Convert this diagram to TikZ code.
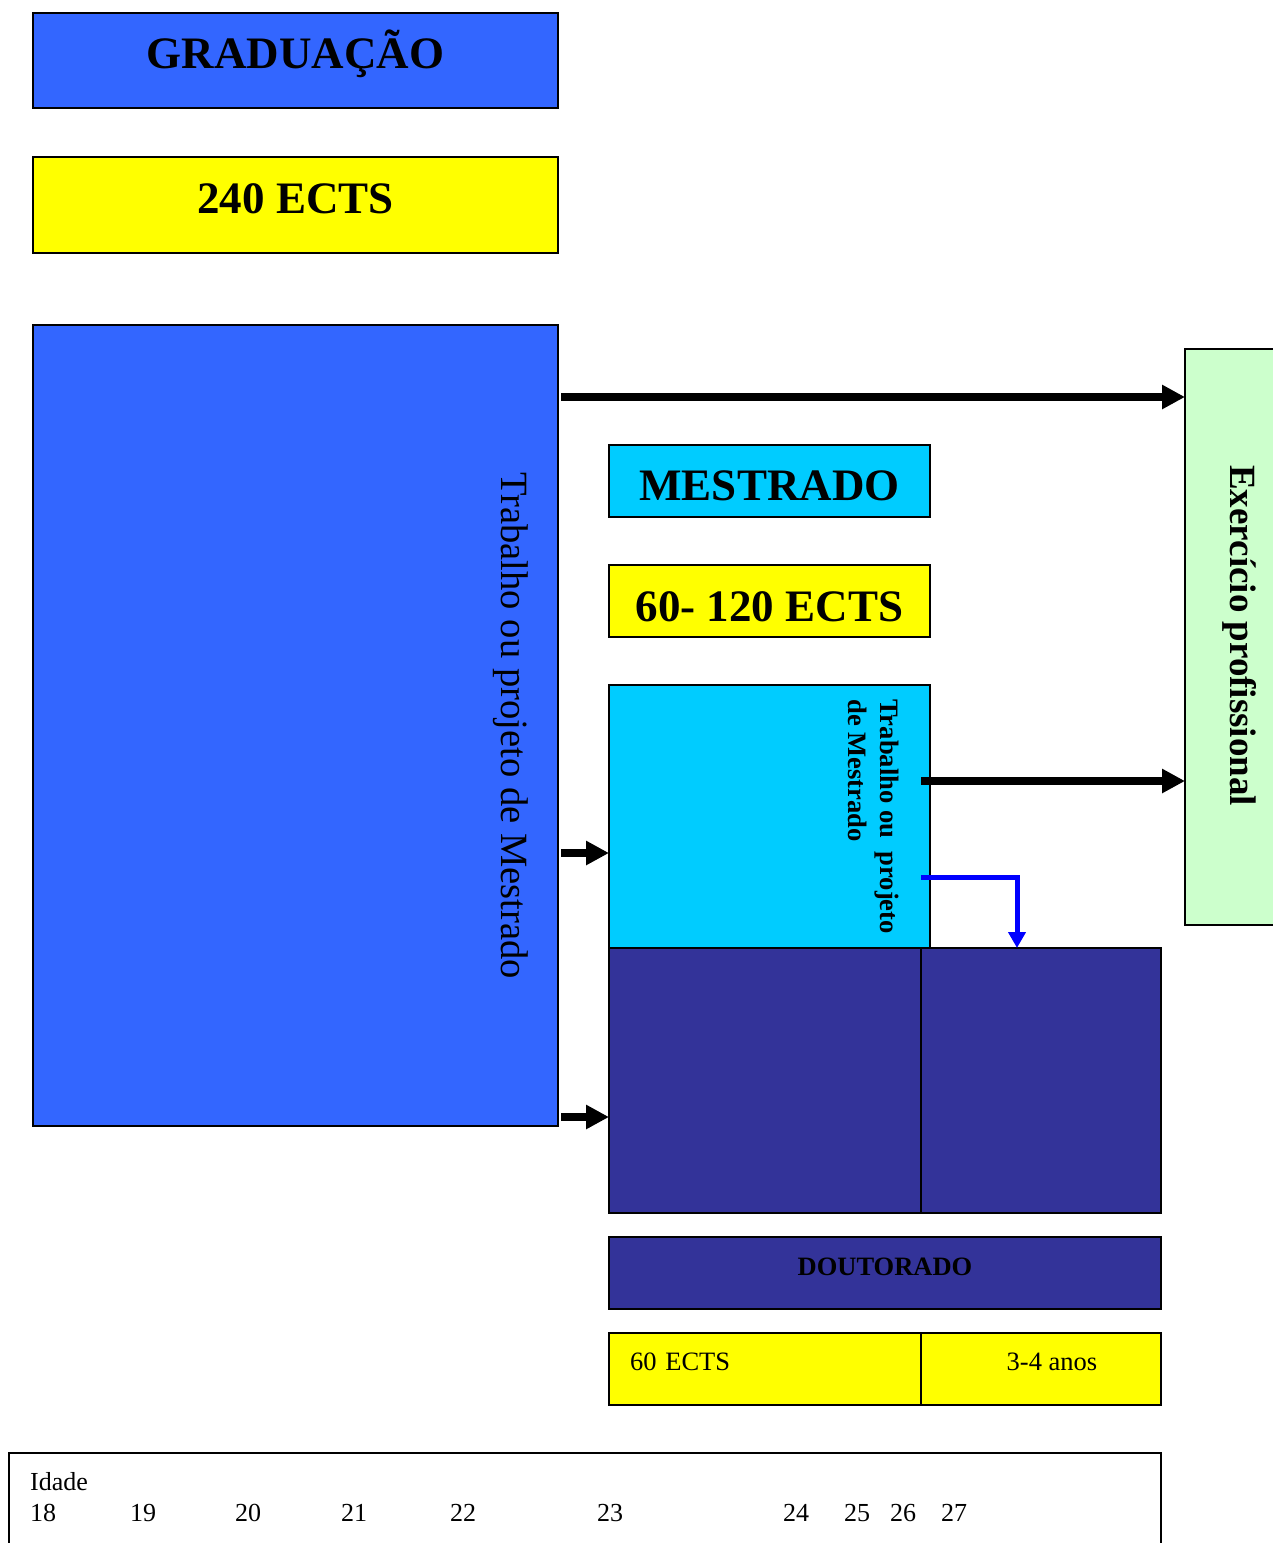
\documentclass[tikz,border=0pt]{standalone}
\usepackage{fontspec}
\setmainfont{Liberation Serif}
\usetikzlibrary{positioning,arrows.meta}

\definecolor{gradblue}{HTML}{3366FF}
\definecolor{mestblue}{HTML}{00CCFF}
\definecolor{docblue}{HTML}{333399}
\definecolor{ectsyellow}{HTML}{FFFF00}
\definecolor{workgreen}{HTML}{CCFFCC}

\begin{document}
\begin{tikzpicture}[
	x=1pt, y=-1pt,
	box/.style={
		draw,
		line width=1.5pt,
		inner sep=0pt,
		outer sep=0pt,
		align=center
	},
	grad/.style={box,fill=gradblue},
	mest/.style={box,fill=mestblue},
	doc/.style={box,fill=docblue},
	ects/.style={box,fill=ectsyellow},
	titletext/.style={font=\bfseries\fontsize{45}{54}\selectfont,text height=#1,text depth=0pt},
	bodytext/.style={font=\fontsize{26.5}{32}\selectfont,text height=#1,text depth=0pt},
	agetext/.style={font=\fontsize{26}{31}\selectfont,inner sep=0pt},
	arrow/.style={-{Triangle[length=23pt,width=23pt]},line width=7.5pt},
	bluearrow/.style={-{Triangle[length=16pt,width=17pt]},line width=5pt,draw=blue}
	]
	\useasboundingbox (0,0) rectangle (1273,1543);
	
	% graduacao
	\node[grad,anchor=north west,minimum width=525pt,minimum height=95pt,titletext=15pt] (grad) at (33,13) {GRADUAÇÃO};
	\node[ects,below=49pt of grad,minimum width=525pt,minimum height=96pt,titletext=16pt] (ects) {240 ECTS};
	\node[grad,below=72pt of ects,minimum width=525pt,minimum height=801pt] (bigwork) {};
	\node[rotate=-90,anchor=base west,inner sep=0pt,font=\fontsize{38.6}{46}\selectfont]
	(bigtxt) at ([shift={(-57,147)}]bigwork.north east) {Trabalho ou projeto de Mestrado};
	
	% mestrado
	\node[mest,anchor=north west,minimum width=321pt,minimum height=72pt,titletext=38pt] (mest) at (609,445) {MESTRADO};
	\node[ects,below=48pt of mest,minimum width=321pt,minimum height=72pt,titletext=40pt] (mects) {60- 120 ECTS};
	\node[mest,below=48pt of mects,minimum width=321pt,minimum height=263pt] (mestwork) {};
	\node[rotate=-90,anchor=north west,align=left,inner sep=0pt,font=\bfseries\fontsize{26.6}{32}\selectfont]
	(mesttxt) at ([shift={(-31,14)}]mestwork.north east) {Trabalho ou\ \ projeto\\de Mestrado};
	
	% doutorado
	\node[doc,anchor=north west,minimum width=312pt,minimum height=265pt] (docA) at (mestwork.south west) {};
	\node[doc,anchor=north west,minimum width=240pt,minimum height=265pt] (docB) at (docA.north east) {};
	\node[doc,anchor=north west,minimum width=552pt,minimum height=72pt,bodytext=4pt,font=\bfseries\fontsize{26.5}{32}\selectfont]
	(dout) at ([shift={(0,24)}]docA.south west) {DOUTORADO};
	\node[ects,anchor=north west,minimum width=312pt,minimum height=72pt,text width=270pt,align=left,bodytext=2pt]
	(ectsdoc) at ([shift={(0,24)}]dout.south west) {60 ECTS};
	\node[ects,anchor=north west,minimum width=240pt,minimum height=72pt,bodytext=2pt]
	(years) at (ectsdoc.north east) {\hspace*{22pt}3-4 anos};
	
	% exercicio profissional
	\node[box,fill=workgreen,anchor=north west,minimum width=110pt,minimum height=576pt] (exer) at (1185,349) {};
	\node[rotate=-90,anchor=base west,inner sep=0pt,font=\bfseries\fontsize{37}{44}\selectfont]
	(exertxt) at ([shift={(45,116)}]exer.north west) {Exercício profissional};
	
	% idade
	\node[box,anchor=north west,minimum width=1152pt,minimum height=120pt] (idade) at (9,1453) {};
	\node[agetext,anchor=base west] (idadetxt) at ([shift={(21,37)}]idade.north west) {Idade};
	\foreach \age/\xpos in {18/21,19/121,20/226,21/332,22/441,23/588,24/774,25/835,26/881,27/932}
	\node[agetext,anchor=base west] (age\age) at ([shift={(\xpos,68)}]idade.north west) {\age};
	
	% arrows
	\coordinate (toexer) at ([shift={(3,72)}]bigwork.north east);
	\coordinate (mestout) at ([shift={(-9,96)}]mestwork.north east);
	\coordinate (mestdown) at ([shift={(-9,192)}]mestwork.north east);
	\coordinate (inmest) at ([shift={(0,168)}]mestwork.north west);
	\coordinate (indoc) at ([shift={(0,-96)}]docA.south west);
	
	\draw[arrow] (toexer) -- (toexer -| exer.west);
	\draw[arrow] (mestout) -- (mestout -| exer.west);
	\draw[bluearrow] (mestdown) -| ([shift={(-24,0)}]docB.north);
	\draw[arrow] ([xshift=3pt]bigwork.east |- inmest) -- (inmest);
	\draw[arrow] ([xshift=3pt]bigwork.east |- indoc) -- (indoc);
	
\end{tikzpicture}
\end{document}
